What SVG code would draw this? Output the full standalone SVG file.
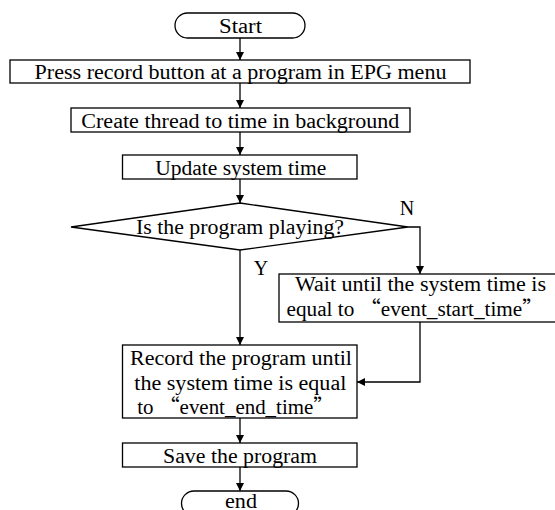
<svg xmlns="http://www.w3.org/2000/svg" width="555" height="510" viewBox="0 0 555 510">
<style>
.b{fill:#fff;stroke:#000;stroke-width:1.3}
.t{font-family:"Liberation Serif","Times New Roman",serif;font-size:20px;fill:#000;text-anchor:middle}
.q{font-family:"Noto Sans CJK SC",sans-serif}
.c{fill:none;stroke:#000;stroke-width:1.3}
</style>
<defs>
<marker id="ah" markerWidth="10" markerHeight="10" refX="9" refY="5" orient="auto" markerUnits="userSpaceOnUse">
<path d="M1,1 L9,5 L1,9 Z" fill="#000"/>
</marker>
</defs>
<rect width="555" height="510" fill="#fff"/>
<g id="connectors">
<path class="c" d="M240,38 V60" marker-end="url(#ah)"/>
<path class="c" d="M240,83 V108" marker-end="url(#ah)"/>
<path class="c" d="M240,132 V155" marker-end="url(#ah)"/>
<path class="c" d="M240,179 V203" marker-end="url(#ah)"/>
<path class="c" d="M408,227 H420 V274" marker-end="url(#ah)"/>
<path class="c" d="M240,250 V345" marker-end="url(#ah)"/>
<path class="c" d="M420,322 V382 H357" marker-end="url(#ah)"/>
<path class="c" d="M240,418 V443" marker-end="url(#ah)"/>
<path class="c" d="M240,467 V491" marker-end="url(#ah)"/>
<text class="t" x="407" y="215">N</text>
<text class="t" x="261" y="275">Y</text>
</g>
<g id="start">
<rect class="b" x="175" y="13" width="130" height="25" rx="12.5"/>
<text class="t" x="240.5" y="32.5" textLength="43" lengthAdjust="spacingAndGlyphs">Start</text>
</g>
<g id="press">
<rect class="b" x="10" y="60" width="460" height="23"/>
<text class="t" x="240.5" y="79" textLength="412" lengthAdjust="spacingAndGlyphs">Press record button at a program in EPG menu</text>
</g>
<g id="thread">
<rect class="b" x="71" y="108" width="339" height="24"/>
<text class="t" x="240.3" y="127.5" textLength="318" lengthAdjust="spacingAndGlyphs">Create thread to time in background</text>
</g>
<g id="update">
<rect class="b" x="122.5" y="155" width="234.5" height="24"/>
<text class="t" x="240.7" y="174.5" textLength="171" lengthAdjust="spacingAndGlyphs">Update system time</text>
</g>
<g id="decision">
<polygon class="b" points="240,203 408,227 240,250 71,227"/>
<text class="t" x="240" y="233.5" textLength="208" lengthAdjust="spacingAndGlyphs">Is the program playing?</text>
</g>
<g id="wait">
<rect class="b" x="279" y="274" width="282" height="48"/>
<text class="t" x="420.5" y="290.5" textLength="251" lengthAdjust="spacingAndGlyphs">Wait until the system time is</text>
<text class="t" x="415" y="316" textLength="257" lengthAdjust="spacingAndGlyphs">equal to <tspan class="q">“</tspan>event_start_time<tspan class="q">”</tspan></text>
</g>
<g id="record">
<rect class="b" x="122.5" y="345" width="234.5" height="73"/>
<text class="t" x="241" y="365" textLength="222" lengthAdjust="spacingAndGlyphs">Record the program until</text>
<text class="t" x="240.3" y="390" textLength="212" lengthAdjust="spacingAndGlyphs">the system time is equal</text>
<text class="t" x="235.7" y="413.5" textLength="197" lengthAdjust="spacingAndGlyphs">to <tspan class="q">“</tspan>event_end_time<tspan class="q">”</tspan></text>
</g>
<g id="save">
<rect class="b" x="122.5" y="443" width="234.5" height="24"/>
<text class="t" x="240" y="462.5" textLength="154" lengthAdjust="spacingAndGlyphs">Save the program</text>
</g>
<g id="end">
<rect class="b" x="181.5" y="491" width="117" height="25" rx="12.5"/>
<text class="t" x="241" y="508" textLength="32" lengthAdjust="spacingAndGlyphs">end</text>
</g>
</svg>
